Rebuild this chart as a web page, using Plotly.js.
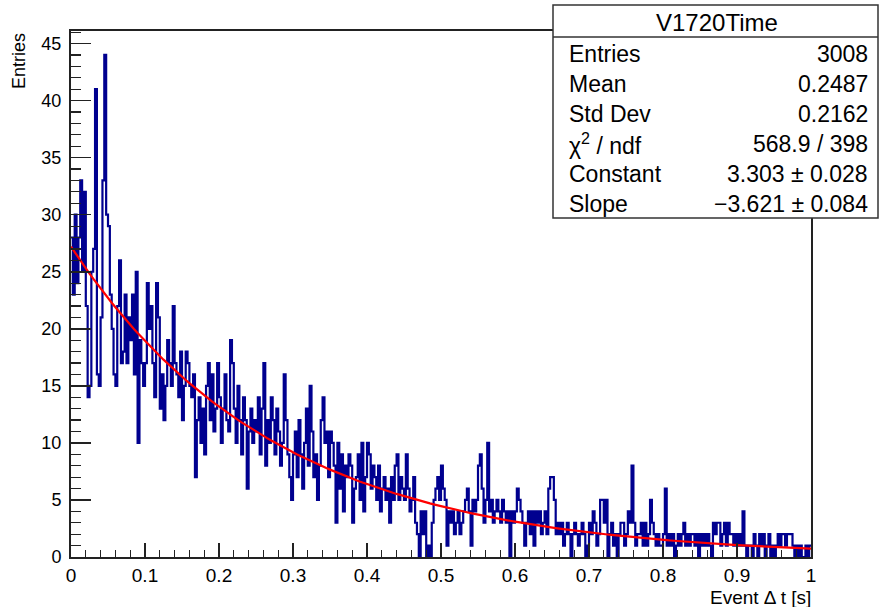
<!DOCTYPE html>
<html>
<head>
<meta charset="utf-8">
<script src="https://cdn.plot.ly/plotly-3.0.1.min.js"></script>
<style>html,body{margin:0;padding:0;background:#fff;}#chart{width:881px;height:607px;}</style>
</head>
<body>
<div id="chart"></div>
<script>
// Histogram: 400 bins from 0 to 1 (bin width 0.0025)
const X_MIN = 0, X_MAX = 1, N_BINS = 400;
const counts = [
 28,23,30,24,28,33,25,32,22,14,15,25,27,41,16,15,21,33,44,30,
 29,23,20,16,15,22,26,17,18,23,17,21,19,23,16,25,10,19,17,15,
 17,24,20,22,17,14,24,21,13,16,12,15,19,17,15,22,17,16,14,18,
 12,15,18,17,15,14,16,7,12,14,10,13,9,15,17,12,16,11,13,17,
 14,10,13,16,12,11,19,17,13,10,15,12,9,14,12,6,11,13,10,12,
 11,14,9,13,17,8,12,10,14,12,9,13,11,8,10,16,12,9,7,5,
 9,11,7,12,9,6,10,13,8,15,11,7,9,5,8,12,14,10,11,7,
 11,10,8,3,10,6,9,4,8,7,9,8,3,6,7,9,5,10,4,7,
 10,9,6,8,7,5,8,4,6,7,5,6,3,7,5,8,9,5,7,6,
 5,9,6,4,5,7,3,2,0,4,2,4,0,1,0,3,5,6,7,5,
 8,6,5,1,4,3,4,2,3,4,2,3,4,5,6,4,1,5,4,5,
 8,9,6,3,5,10,4,5,3,4,5,4,3,5,4,3,4,0,4,3,
 4,6,5,4,3,1,3,4,2,4,1,4,3,4,2,3,4,2,6,7,
 7,5,2,3,2,3,1,2,3,2,0,2,3,2,1,2,3,2,0,1,
 3,2,4,3,1,2,5,5,3,5,0,2,3,1,2,0,2,3,3,1,
 2,4,3,8,3,1,2,2,3,1,3,1,2,5,3,2,1,2,1,1,
 2,6,1,2,1,2,0,1,2,1,2,3,1,2,1,2,2,1,2,0,
 2,1,2,1,2,1,0,3,2,3,3,1,2,3,1,3,2,2,1,2,
 1,2,1,4,1,0,1,1,0,2,1,0,2,1,2,0,1,2,0,1,
 0,1,2,1,2,2,1,2,2,2,1,0,1,0,1,0,0,1,0,1
];

// Fit (expo): exp(Constant + Slope*x)
const FIT_CONSTANT = 3.303;
const FIT_SLOPE = -3.621;

// Stats box
const statsTitle = "V1720Time";
const statsLabels = ["Entries", "Mean", "Std Dev", "χ<sup>2</sup> / ndf", "Constant", "Slope"];
const statsValues = ["3008", "0.2487", "0.2162", "568.9 / 398", "3.303 ± 0.028", "−3.621 ± 0.084"];

const xTitle = "Event Δ t [s]";
const yTitle = "Entries";

// Build step outline from bin edges
const binW = (X_MAX - X_MIN) / N_BINS;
const hx = [], hy = [];
for (let i = 0; i < counts.length; i++) { hx.push(X_MIN + i * binW); hy.push(counts[i]); }
hx.push(X_MAX); hy.push(counts[counts.length - 1]);

const fx = [], fy = [];
for (let i = 0; i <= 200; i++) { const x = X_MIN + (X_MAX - X_MIN) * i / 200; fx.push(x); fy.push(Math.exp(FIT_CONSTANT + FIT_SLOPE * x)); }

const FONT = "Liberation Sans, Arial, Helvetica, sans-serif";
const L = 71, R = 811, T = 31, B = 557, W = 881, H = 607;
const px2x = p => (p - L) / (R - L);
const px2y = p => (B - p) / (B - T);

const traces = [
  {x: hx, y: hy, type: 'scatter', mode: 'lines', line: {shape: 'hv', color: '#00008f', width: 2.2}, hoverinfo: 'skip'},
  {x: fx, y: fy, type: 'scatter', mode: 'lines', line: {color: '#ff0000', width: 2.2}, hoverinfo: 'skip'}
];

const SF = 23;
const annotations = [];
annotations.push({xref: 'paper', yref: 'paper', x: px2x(717), y: px2y(22), text: statsTitle, showarrow: false, xanchor: 'center', yanchor: 'middle', font: {family: FONT, size: 24, color: '#000'}});
const rowY = [54, 84, 114, 144, 174, 204];
for (let i = 0; i < statsLabels.length; i++) {
  annotations.push({xref: 'paper', yref: 'paper', x: px2x(567), y: px2y(rowY[i]), text: statsLabels[i], showarrow: false, xanchor: 'left', yanchor: 'middle', font: {family: FONT, size: SF, color: '#000'}});
  annotations.push({xref: 'paper', yref: 'paper', x: px2x(870), y: px2y(rowY[i]), text: statsValues[i], showarrow: false, xanchor: 'right', yanchor: 'middle', font: {family: FONT, size: SF, color: '#000'}});
}
annotations.push({xref: 'paper', yref: 'paper', x: px2x(19), y: px2y(31), text: yTitle, textangle: -90, showarrow: false, xanchor: 'center', yanchor: 'top', font: {family: FONT, size: 18, color: '#000'}});
annotations.push({xref: 'paper', yref: 'paper', x: px2x(813), y: px2y(597), text: xTitle, showarrow: false, xanchor: 'right', yanchor: 'middle', font: {family: FONT, size: 19, color: '#000'}});

const layout = {
  width: W, height: H,
  margin: {l: L, r: W - R, t: T, b: H - B, pad: 0},
  paper_bgcolor: '#fff', plot_bgcolor: '#fff',
  showlegend: false,
  font: {family: FONT, size: 19, color: '#000'},
  xaxis: {
    range: [X_MIN, X_MAX], dtick: 0.1, tick0: 0, ticks: 'inside', ticklen: 14, tickwidth: 1.5, tickcolor: '#222',
    showline: true, linecolor: '#222', linewidth: 2, mirror: true, showgrid: false, zeroline: false,
    tickfont: {family: FONT, size: 19}, ticklabelstandoff: 0,
    minor: {dtick: 0.02, ticks: 'inside', ticklen: 7, tickwidth: 1.2, tickcolor: '#222', showgrid: false}
  },
  yaxis: {
    range: [0, 46.1], dtick: 5, tick0: 0, ticks: 'inside', ticklen: 20, tickwidth: 1.5, tickcolor: '#222',
    showline: true, linecolor: '#222', linewidth: 2, mirror: true, showgrid: false, zeroline: false,
    tickfont: {family: FONT, size: 18}, ticklabelstandoff: 4,
    minor: {dtick: 1, ticks: 'inside', ticklen: 10, tickwidth: 1.2, tickcolor: '#222', showgrid: false}
  },
  shapes: [
    {type: 'rect', xref: 'paper', yref: 'paper', x0: px2x(553), x1: px2x(878), y0: px2y(218), y1: px2y(5), fillcolor: '#fff', line: {color: '#333', width: 1.5}, layer: 'above'},
    {type: 'line', xref: 'paper', yref: 'paper', x0: px2x(553), x1: px2x(878), y0: px2y(37), y1: px2y(37), line: {color: '#333', width: 1.5}, layer: 'above'}
  ],
  annotations: annotations
};

Plotly.newPlot('chart', traces, layout, {staticPlot: true, displayModeBar: false});
</script>
</body>
</html>
